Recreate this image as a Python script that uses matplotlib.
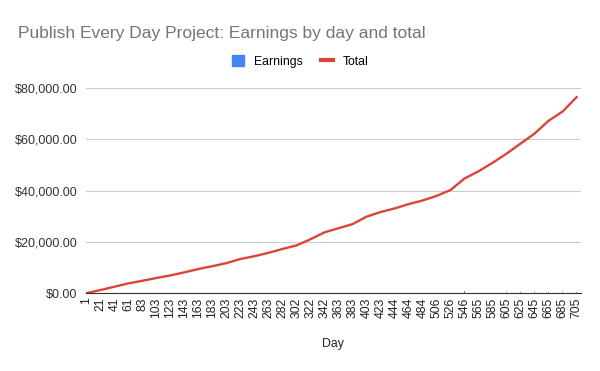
import matplotlib.pyplot as plt
from matplotlib.ticker import FuncFormatter
from matplotlib.patches import Patch
from matplotlib.lines import Line2D

plt.rcParams["font.family"] = ["Liberation Sans", "DejaVu Sans"]

# day labels shown on the category axis
days = ["1", "21", "41", "61", "83", "103", "123", "143", "163", "183",
        "203", "223", "243", "263", "282", "302", "322", "342", "363", "383",
        "403", "423", "444", "464", "484", "506", "526", "546", "565", "585",
        "605", "625", "645", "665", "685", "705"]

# running total at each labelled day
total = [0, 1200, 2500, 3800, 4800, 5900, 6900, 8100, 9400, 10500,
         11700, 13300, 14400, 15700, 17200, 18600, 21000, 23700, 25300, 26900,
         29800, 31600, 33000, 34700, 36100, 37900, 40200, 44700, 47500, 50800,
         54400, 58300, 62200, 67200, 70800, 76400]

# daily earnings (barely visible near zero)
earnings = [0, 90, 110, 80, 100, 120, 90, 110, 130, 100,
            110, 140, 90, 120, 130, 110, 150, 160, 120, 140,
            170, 130, 120, 150, 140, 160, 180, 700, 200, 230,
            250, 260, 600, 280, 550, 320]

fig = plt.figure(figsize=(6, 3.71), dpi=100)
ax = fig.add_axes([0.143, 0.21, 0.825, 0.553])

x = list(range(len(days)))
ax.bar(x, earnings, width=0.08, color="#4285F4", zorder=2)
ax.plot(x, total, color="#DB4437", linewidth=1.7, zorder=3)

ax.set_ylim(0, 80000)
ax.set_xlim(-0.05, len(days) - 0.7)
ax.set_yticks([0, 20000, 40000, 60000, 80000])
ax.yaxis.set_major_formatter(FuncFormatter(lambda v, p: "${:,.2f}".format(v)))
ax.set_xticks(x)
ax.set_xticklabels(days, rotation=90, fontsize=8.8, color="#222222")
ax.tick_params(axis="y", labelsize=9, labelcolor="#333333", length=0, pad=6)
ax.tick_params(axis="x", length=0, pad=3)
ax.grid(axis="y", color="#cccccc", linewidth=0.8, zorder=0)
ax.set_axisbelow(True)
for s in ["top", "right", "left"]:
    ax.spines[s].set_visible(False)
ax.spines["bottom"].set_color("#333333")
ax.spines["bottom"].set_zorder(4)

ax.set_xlabel("Day", fontsize=8.8, color="#222222", labelpad=15)

fig.text(0.03, 0.91, "Publish Every Day Project: Earnings by day and total",
         fontsize=12.5, color="#757575", va="center")

handles = [Patch(color="#4285F4", label="Earnings"),
           Line2D([0], [0], color="#DB4437", linewidth=3, label="Total")]
fig.legend(handles=handles, loc="center", bbox_to_anchor=(0.5, 0.835), ncol=2,
           frameon=False, fontsize=8.8, handlelength=1.0, handleheight=1.0,
           columnspacing=1.5, handletextpad=0.8)

fig.savefig("out.png")
